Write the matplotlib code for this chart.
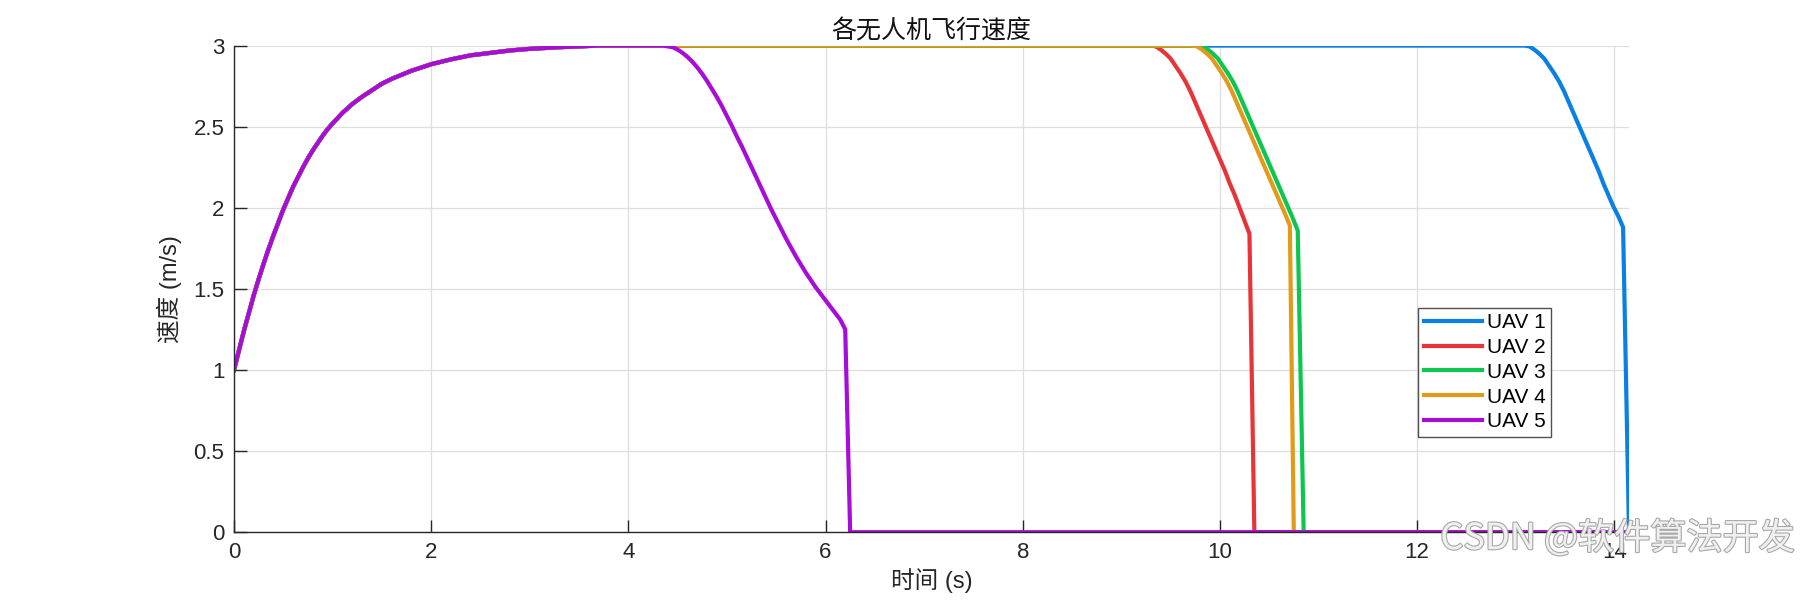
import matplotlib
matplotlib.use("Agg")
import matplotlib.pyplot as plt
import matplotlib.patheffects as pe

plt.rcParams['font.family'] = ['Liberation Sans', 'Noto Sans CJK SC', 'DejaVu Sans']

# 加速阶段 (各无人机共用, 从图上读取)
t_acc = [0.00, 0.05, 0.10, 0.15, 0.20, 0.25, 0.30, 0.35, 0.40, 0.45, 0.50,
         0.55, 0.60, 0.65, 0.70, 0.75, 0.80, 0.85, 0.90, 0.95, 1.00, 1.10,
         1.20, 1.30, 1.40, 1.50, 1.60, 1.70, 1.80, 1.90, 2.00, 2.20, 2.40,
         2.60, 2.80, 3.00, 3.30, 3.70]
v_acc = [1.00, 1.12, 1.24, 1.35, 1.46, 1.56, 1.655, 1.745, 1.83, 1.91, 1.99,
         2.06, 2.13, 2.19, 2.25, 2.305, 2.355, 2.40, 2.445, 2.485, 2.52, 2.585,
         2.64, 2.685, 2.725, 2.765, 2.795, 2.82, 2.845, 2.865, 2.885, 2.915, 2.94,
         2.955, 2.97, 2.98, 2.99, 3.00]

# 减速阶段
t_dec1 = [13.09, 13.14, 13.19, 13.24, 13.29, 13.34, 13.39, 13.44, 13.49, 13.54,
          13.59, 13.64, 13.69, 13.74, 13.79, 13.84, 13.89, 13.94, 13.99, 14.04,
          14.09, 14.15]
v_dec1 = [3.00, 2.995, 2.975, 2.95, 2.92, 2.875, 2.83, 2.78, 2.72, 2.65,
          2.58, 2.51, 2.44, 2.37, 2.30, 2.23, 2.15, 2.08, 2.01, 1.95,
          1.88, 0.00]

t_dec2 = [9.30, 9.35, 9.40, 9.45, 9.50, 9.55, 9.60, 9.65, 9.70, 9.75,
          9.80, 9.85, 9.90, 9.95, 10.00, 10.05, 10.10, 10.15, 10.20, 10.25,
          10.30, 10.35]
v_dec2 = [3.00, 2.995, 2.975, 2.95, 2.92, 2.875, 2.83, 2.78, 2.72, 2.65,
          2.58, 2.51, 2.44, 2.37, 2.30, 2.23, 2.15, 2.08, 2.00, 1.92,
          1.84, 0.00]

t_dec3 = [9.78, 9.83, 9.88, 9.93, 9.98, 10.03, 10.08, 10.13, 10.18, 10.23,
          10.28, 10.33, 10.38, 10.43, 10.48, 10.53, 10.58, 10.63, 10.68, 10.73,
          10.79, 10.85]
v_dec3 = [3.00, 2.995, 2.975, 2.95, 2.92, 2.875, 2.83, 2.78, 2.72, 2.65,
          2.58, 2.51, 2.44, 2.37, 2.30, 2.23, 2.16, 2.09, 2.02, 1.95,
          1.86, 0.00]

t_dec4 = [9.72, 9.77, 9.82, 9.87, 9.92, 9.97, 10.02, 10.07, 10.12, 10.17,
          10.22, 10.27, 10.32, 10.37, 10.42, 10.47, 10.52, 10.57, 10.62, 10.67,
          10.71, 10.75]
v_dec4 = [3.00, 2.995, 2.975, 2.95, 2.92, 2.875, 2.83, 2.78, 2.72, 2.65,
          2.58, 2.51, 2.44, 2.37, 2.30, 2.23, 2.16, 2.09, 2.02, 1.95,
          1.89, 0.00]

t_dec5 = [4.35, 4.40, 4.45, 4.50, 4.55, 4.60, 4.65, 4.70, 4.75, 4.80,
          4.85, 4.90, 4.95, 5.00, 5.05, 5.10, 5.15, 5.20, 5.25, 5.30,
          5.35, 5.40, 5.45, 5.50, 5.55, 5.60, 5.65, 5.70, 5.75, 5.80,
          5.85, 5.90, 5.95, 6.00, 6.05, 6.10, 6.15, 6.20, 6.25]
v_dec5 = [3.00, 2.995, 2.99, 2.975, 2.955, 2.93, 2.90, 2.865, 2.825, 2.78,
          2.73, 2.68, 2.625, 2.565, 2.505, 2.44, 2.38, 2.315, 2.25, 2.185,
          2.12, 2.055, 1.99, 1.93, 1.87, 1.81, 1.755, 1.70, 1.65, 1.60,
          1.555, 1.51, 1.47, 1.43, 1.39, 1.35, 1.31, 1.25, 0.00]

t_end = 14.15

labels = ['UAV 1', 'UAV 2', 'UAV 3', 'UAV 4', 'UAV 5']
colors = ['#0A80E6', '#E83338', '#0CC64E', '#E29A1A', '#A80CD9']
decs = [(t_dec1, v_dec1), (t_dec2, v_dec2), (t_dec3, v_dec3),
        (t_dec4, v_dec4), (t_dec5, v_dec5)]

fig = plt.figure(figsize=(18, 6), dpi=100)
ax = fig.add_axes([0.13, 0.113, 0.775, 0.811])

for (td, vd), c, lab in zip(decs, colors, labels):
    t = t_acc + td + [t_end]
    v = v_acc + vd + [0.0]
    ax.plot(t, v, color=c, linewidth=3.0, label=lab)

ax.set_xlim(0, t_end)
ax.set_ylim(0, 3)
ax.set_xticks([0, 2, 4, 6, 8, 10, 12, 14])
ax.set_yticks([0, 0.5, 1, 1.5, 2, 2.5, 3])
ax.set_yticklabels(['0', '0.5', '1', '1.5', '2', '2.5', '3'])
ax.grid(True, color='#dedede', linewidth=0.9)
ax.set_axisbelow(True)
for s in ['top', 'right']:
    ax.spines[s].set_visible(False)
for s in ['left', 'bottom']:
    ax.spines[s].set_color('#262626')
    ax.spines[s].set_linewidth(1.0)
ax.tick_params(direction='in', length=9, width=1.0, color='#262626',
               labelsize=16, labelcolor='#262626', pad=7)

ax.set_title('各无人机飞行速度', fontsize=18, color='#111111', pad=5)
ax.set_xlabel('时间 (s)', fontsize=17, color='#262626', labelpad=4)
ax.set_ylabel('速度 (m/s)', fontsize=17, color='#262626', labelpad=8)

leg = ax.legend(loc='upper left', bbox_to_anchor=(0.849, 0.461),
                fontsize=15, frameon=True, fancybox=False,
                handlelength=2.8, handletextpad=0.25, borderpad=0.25,
                labelspacing=0.28, borderaxespad=0)
leg.get_frame().set_edgecolor('#262626')
leg.get_frame().set_linewidth(1.0)

fig.text(0.997, 0.103, 'CSDN @软件算法开发', ha='right', va='center',
         fontsize=26, color='#f0f0f0', family=['Noto Sans CJK SC', 'DejaVu Sans'],
         path_effects=[pe.withStroke(linewidth=1.6, foreground='#a8a8a8')])

fig.savefig('out.png', dpi=100)
